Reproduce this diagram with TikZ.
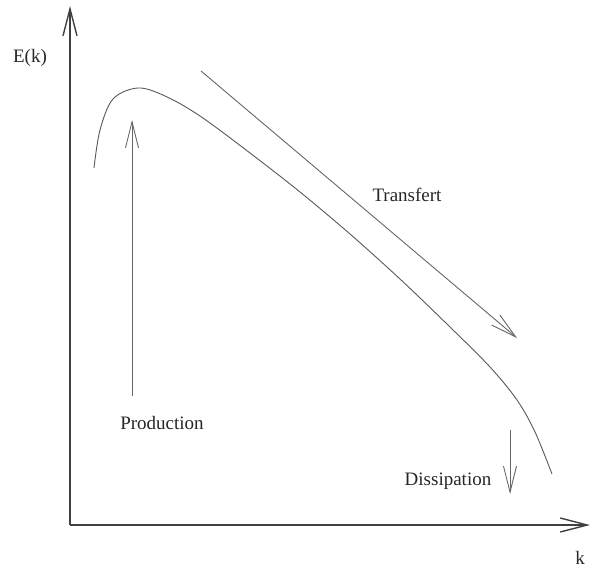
\documentclass[tikz,border=0pt]{standalone}
\usepackage{fontspec}
\setmainfont{Liberation Serif}
\usetikzlibrary{arrows.meta}
\begin{document}
\begin{tikzpicture}[x=1pt,y=-1pt,
  axisline/.style={line width=1.7pt, black!75, -{Straight Barb[length=27pt,width=14pt,line width=1.4pt]}},
  thinarrow/.style={line width=0.9pt, black!60, -{Straight Barb[length=26pt,width=13pt,line width=0.9pt]}},
  curveline/.style={line width=0.9pt, black!65},
  lbl/.style={font=\fontsize{19}{22}\selectfont, text=black!85, inner sep=0pt}]
\useasboundingbox (0,0) rectangle (593,569);
% axes
\coordinate (O) at (70,525);
\coordinate (ytip) at (70,6);
\coordinate (xtip) at (590,525);
\draw[axisline] (O) -- (ytip);
\draw[axisline] (O) -- (xtip);
\node[lbl] (ylab) at (30,58) {E(k)};
\node[lbl] (xlab) at (580,558) {k};
% spectrum curve
\draw[curveline] plot[smooth, tension=0.55] coordinates {(94,168) (100,130) (113,99) (138,88) (165,96) (200,116) (250,153) (300,192) (350,234) (400,279) (450,327) (490,367) (517,400) (535,432) (552,474)};
% production
\coordinate (p0) at (132,396);
\coordinate (p1) at (132,120);
\draw[thinarrow] (p0) -- (p1);
\node[lbl] (prod) at (162,423) {Production};
% transfert
\coordinate (t0) at (201,71);
\coordinate (t1) at (517,338);
\draw[thinarrow] (t0) -- (t1);
\node[lbl] (trans) at (407,195) {Transfert};
% dissipation
\coordinate (d0) at (510,430);
\coordinate (d1) at (510,494);
\draw[thinarrow] (d0) -- (d1);
\node[lbl] (diss) at (448,481) {Dissipation};
\end{tikzpicture}
\end{document}
